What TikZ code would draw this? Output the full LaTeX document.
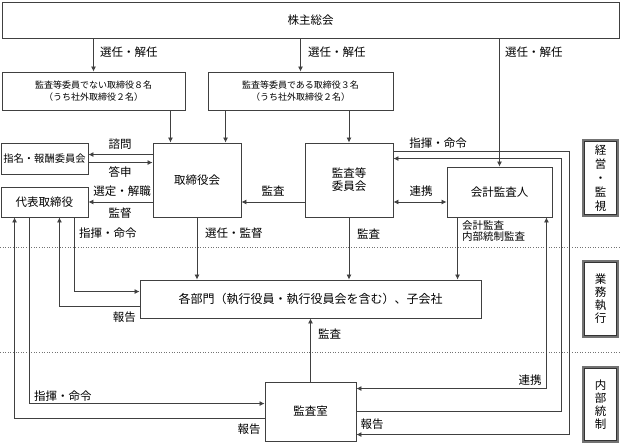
\documentclass[tikz,border=0pt]{standalone}
\usepackage{fontspec}
\newfontfamily\jp{Noto Sans CJK JP}
\usetikzlibrary{arrows.meta,calc}
\begin{document}
\begin{tikzpicture}[x=1pt,y=-1pt,
  every node/.style={font=\jp\fontsize{11.5}{13}\selectfont, text=black},
  box/.style={draw=black!75, line width=0.9pt, rectangle, inner sep=0pt, align=center},
  ln/.style={draw=black!75, line width=0.8pt},
  arr/.style={ln, -{Latex[length=5pt,width=5pt]}},
  darr/.style={ln, {Latex[length=5pt,width=5pt]}-{Latex[length=5pt,width=5pt]}},
  sidebox/.style={draw=black!55, line width=1.2pt, rectangle, inner sep=0pt, align=center, minimum width=35pt, font=\jp\fontsize{11.5}{14}\selectfont},
  sidein/.style={draw=black!80, line width=0.5pt},
  lbl/.style={inner sep=0pt},
  small/.style={font=\jp\fontsize{9}{12}\selectfont},
  sep/.style={draw=black!55, line width=0.6pt, dotted}
]
\useasboundingbox (0,0) rectangle (621,443);

% separators
\coordinate (L1) at (0,247); \coordinate (R1) at (621,247);
\coordinate (L2) at (0,352); \coordinate (R2) at (621,352);
\draw[sep] (L1) -- (R1);
\draw[sep] (L2) -- (R2);

% boxes
\node[box, minimum width=617pt, minimum height=36pt] (kabu) at (310.5,20) {株主総会};
\node[box, small, minimum width=183pt, minimum height=38pt] (dirA) at (93.5,91) {監査等委員でない取締役８名\\（うち社外取締役２名）};
\node[box, small, minimum width=185pt, minimum height=38pt] (dirB) at (300.5,91) {監査等委員である取締役３名\\（うち社外取締役２名）};
\node[box, minimum width=87pt, minimum height=31pt, font=\jp\fontsize{10.3}{12}\selectfont] (nom) at (44.5,158.5) {指名・報酬委員会};
\node[box, minimum width=87pt, minimum height=30pt] (rep) at (44.5,202) {代表取締役};
\node[box, minimum width=88pt, minimum height=74pt] (board) at (197,180) {取締役会};
\node[box, minimum width=88pt, minimum height=74pt] (aud) at (349,180) {監査等\\委員会};
\node[box, minimum width=105pt, minimum height=50pt] (acc) at (499.5,192) {会計監査人};
\node[box, minimum width=341pt, minimum height=38pt, font=\jp\fontsize{12}{13}\selectfont] (dept) at (310.5,299) {各部門（執行役員・執行役員会を含む）、子会社};
\node[box, minimum width=91pt, minimum height=59pt] (ia) at (310.5,411.5) {監査室};

\node[sidebox, minimum height=76pt] (s1) at (600.5,178) {経\\営\\・\\監\\視};
\node[sidebox, minimum height=76pt, font=\jp\fontsize{11.5}{13}\selectfont] (s2) at (600.5,299) {業\\務\\執\\行};
\node[sidebox, minimum height=75pt, font=\jp\fontsize{11.5}{13}\selectfont] (s3) at (600.5,404.5) {内\\部\\統\\制};
\foreach \s in {s1,s2,s3}
  \draw[sidein] ([shift={(2.2pt,-2.2pt)}]\s.north west) rectangle ([shift={(-2.2pt,2.2pt)}]\s.south east);

% helper coordinates
\coordinate (xr1) at (561,0);
\coordinate (xr2) at (569,0);
\coordinate (aIn) at ([yshift=-16pt]aud.north east);
\coordinate (aOut) at ([yshift=-9pt]aud.north east);
\coordinate (iOut) at ([yshift=-30pt]ia.north east);
\coordinate (iIn) at ([yshift=-53pt]ia.north east);

% connectors
\draw[arr] (kabu.south -| dirA.north) -- (dirA.north);
\draw[arr] (kabu.south -| dirB.north) -- (dirB.north);
\draw[arr] (kabu.south -| acc.north) -- (acc.north);
\draw[arr] ([xshift=-15pt]dirA.south east) -- ([xshift=-15pt]dirA.south east |- board.north);
\draw[arr] ([xshift=18pt]dirB.south west) -- ([xshift=18pt]dirB.south west |- board.north);
\draw[arr] (dirB.south -| aud.north) -- (aud.north);

\draw[arr] ([yshift=-12pt]board.north west) -- ([yshift=-12pt]board.north west -| nom.east);
\draw[arr] ([yshift=-20pt]board.north west -| nom.east) -- ([yshift=-20pt]board.north west);
\draw[arr] (rep.east -| board.west) -- (rep.east);
\draw[arr] (rep.east -| aud.west) -- (rep.east -| board.east);
\draw[darr] (rep.east -| aud.east) -- (rep.east -| acc.west);

\draw[arr] (board.south) -- (board.south |- dept.north);
\draw[arr] (aud.south) -- (aud.south |- dept.north);
\draw[arr] ([xshift=11pt]acc.south west) -- ([xshift=11pt]acc.south west |- dept.north);

\draw[arr] ([xshift=-14pt]rep.south east) |- ([yshift=-12pt]dept.north west);
\draw[arr] ([yshift=-27pt]dept.north west) -| ([xshift=-29pt]rep.south east);
\draw[arr] ([xshift=29pt]rep.south west) |- ([yshift=-22pt]ia.north west);
\draw[arr] ([yshift=-37pt]ia.north west) -| ([xshift=14pt]rep.south west);
\draw[arr] (ia.north) -- (ia.north |- dept.south);
\draw[darr] ([yshift=-7pt]ia.north east) -| ([xshift=-6pt]acc.south east);
\draw[arr] (iOut) -| (xr1 |- aIn) -- (aIn);
\draw[arr] (aOut) -| (xr2 |- iIn) -- (iIn);

% labels
\node[lbl, anchor=west] (t1) at (100,52) {選任・解任};
\node[lbl, anchor=west] (t2) at (308,52) {選任・解任};
\node[lbl, anchor=west] (t3) at (505,52) {選任・解任};
\node[lbl] (t4) at (120,144) {諮問};
\node[lbl] (t5) at (120,172) {答申};
\node[lbl] (t6) at (122,191) {選定・解職};
\node[lbl] (t7) at (120,213) {監督};
\node[lbl] (t8) at (273,191) {監査};
\node[lbl] (t9) at (421,191) {連携};
\node[lbl] (t10) at (438,143) {指揮・命令};
\node[lbl, anchor=west] (t11) at (79,233) {指揮・命令};
\node[lbl, anchor=west] (t12) at (205,233) {選任・監督};
\node[lbl, anchor=west] (t13) at (357,234) {監査};
\node[lbl, anchor=west, align=left, font=\jp\fontsize{10.5}{11.5}\selectfont] (t14) at (462,231) {会計監査\\内部統制監査};
\node[lbl, anchor=east] (t15) at (136,317) {報告};
\node[lbl, anchor=west] (t16) at (318,334) {監査};
\node[lbl, anchor=west] (t17) at (34,396) {指揮・命令};
\node[lbl] (t18) at (249,429) {報告};
\node[lbl] (t19) at (530,380) {連携};
\node[lbl] (t20) at (372,424) {報告};
\end{tikzpicture}
\end{document}
